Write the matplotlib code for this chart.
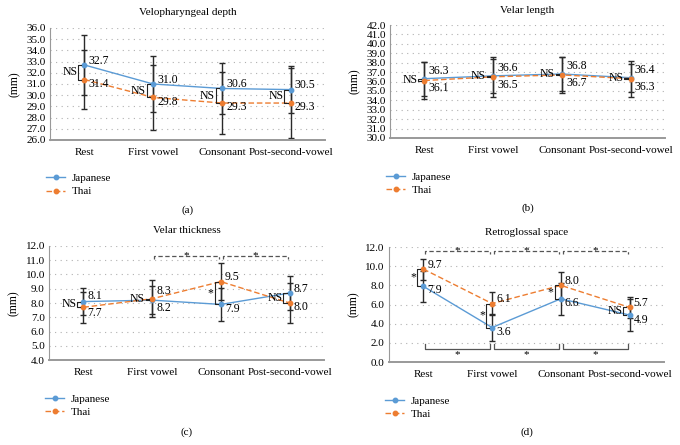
import matplotlib
matplotlib.use('Agg')
import matplotlib.pyplot as plt
import numpy as np

plt.rcParams['font.family'] = ['Liberation Serif', 'DejaVu Serif']
plt.rcParams['font.size'] = 8

categories = ['Rest', 'First vowel', 'Consonant', 'Post-second-vowel']

# velopharyngeal depth
depth_jp = [32.7, 31.0, 30.6, 30.5]
depth_jp_sd = [2.7, 2.5, 2.3, 2.1]
depth_th = [31.4, 29.8, 29.3, 29.3]
depth_th_sd = [2.6, 2.9, 2.8, 3.1]
depth_sig = ['NS', 'NS', 'NS', 'NS']

# velar length
length_jp = [36.3, 36.6, 36.8, 36.4]
length_jp_sd = [1.8, 1.8, 1.8, 1.5]
length_th = [36.1, 36.5, 36.7, 36.3]
length_th_sd = [2.0, 2.1, 1.9, 1.9]
length_sig = ['NS', 'NS', 'NS', 'NS']

# velar thickness
thick_jp = [8.1, 8.2, 7.9, 8.7]
thick_jp_sd = [0.95, 1.0, 1.15, 1.2]
thick_th = [7.7, 8.3, 9.5, 8.0]
thick_th_sd = [1.1, 1.3, 1.3, 1.4]
thick_sig = ['NS', 'NS', '*', 'NS']
thick_top = [(1, 2, '*'), (2, 3, '*')]

# retroglossal space
retro_jp = [7.9, 3.6, 6.6, 4.9]
retro_jp_sd = [1.6, 1.4, 1.65, 1.7]
retro_th = [9.7, 6.1, 8.0, 5.7]
retro_th_sd = [1.1, 1.2, 1.4, 1.1]
retro_sig = ['*', '*', '*', 'NS']
retro_top = [(0, 1, '*'), (1, 2, '*'), (2, 3, '*')]
retro_bottom = [(0, 1, '*'), (1, 2, '*'), (2, 3, '*')]

BLUE = '#5b9bd5'
ORANGE = '#ed7d31'
GRID = '#b0b0b0'


def draw_panel(rect, title, letter, jp, jp_sd, th, th_sd, sig, ylim, ystep,
               top=None, top_y=None, bottom=None, bottom_y=None):
    ax = fig.add_axes(rect)
    x = np.arange(len(categories))
    ax.set_xlim(-0.5, len(categories) - 0.5)
    ax.set_ylim(*ylim)
    ax.set_yticks(np.arange(ylim[0], ylim[1] + 0.01, ystep))
    ax.yaxis.set_major_formatter(plt.FormatStrFormatter('%.1f'))
    ax.set_xticks(x)
    ax.set_xticklabels(categories)
    ax.tick_params(length=0, pad=3, labelsize=8)
    ax.tick_params(axis='x', pad=6)
    ax.grid(axis='y', color=GRID, ls=(0, (1, 4)), lw=0.8)
    ax.set_axisbelow(True)
    for s in ['top', 'right']:
        ax.spines[s].set_visible(False)
    ax.spines['left'].set_color('#999999')
    ax.spines['left'].set_linewidth(0.8)
    ax.spines['bottom'].set_color('#999999')
    ax.spines['bottom'].set_linewidth(1.4)

    ax.errorbar(x, jp, yerr=jp_sd, fmt='none', ecolor='#2a2a2a', elinewidth=1.0,
                capsize=2, capthick=1.0, zorder=2)
    ax.errorbar(x, th, yerr=th_sd, fmt='none', ecolor='#2a2a2a', elinewidth=1.0,
                capsize=2, capthick=1.0, zorder=2)
    ax.plot(x, jp, color=BLUE, lw=1.0, marker='o', ms=3.2, label='Japanese', zorder=3)
    ax.plot(x, th, color=ORANGE, lw=1.0, ls=(0, (4, 2)), marker='o', ms=3.2,
            label='Thai', zorder=3)

    # data labels, pushed apart when the two values are close
    ppu = rect[3] * 445 / (ylim[1] - ylim[0]) * 72 / 100.0
    for i in range(len(x)):
        gap = abs(jp[i] - th[i]) * ppu
        d = max(3.0, (10.0 - gap) / 2.0 + 1)
        hi, lo = (jp[i], th[i]) if jp[i] >= th[i] else (th[i], jp[i])
        ax.annotate('%.1f' % hi, (x[i], hi), xytext=(3, d), textcoords='offset points',
                    ha='left', va='center', fontsize=8.5, zorder=4)
        ax.annotate('%.1f' % lo, (x[i], lo), xytext=(3, -d), textcoords='offset points',
                    ha='left', va='center', fontsize=8.5, zorder=4)
        # bracket between groups
        bx = x[i] - 0.09
        ax.plot([bx + 0.045, bx, bx, bx + 0.045], [hi, hi, lo, lo], color='#222222', lw=0.8,
                zorder=4)
        ax.text(bx - 0.015, (hi + lo) / 2, sig[i], ha='right', va='center', fontsize=8.5)

    if top:
        tick = (ylim[1] - ylim[0]) * 0.025
        for a, b, s in top:
            ax.plot([a + 0.03, a + 0.03, b - 0.03, b - 0.03],
                    [top_y - tick, top_y, top_y, top_y - tick],
                    color='#555555', lw=0.9, ls=(0, (3.5, 2)), zorder=4)
            ax.text((a + b) / 2, top_y, s, ha='center', va='center', fontsize=8)
    if bottom:
        tick = (ylim[1] - ylim[0]) * 0.04
        for a, b, s in bottom:
            ax.plot([a + 0.03, a + 0.03, b - 0.03, b - 0.03],
                    [bottom_y + tick, bottom_y, bottom_y, bottom_y + tick],
                    color='#555555', lw=0.9, zorder=4)
            ax.text((a + b) / 2, bottom_y - tick * 1.2, s, ha='center', va='center', fontsize=8)

    ax.set_title(title, fontsize=8, pad=9)
    ax.set_ylabel('(mm)', fontsize=8.5, labelpad=4)
    ax.legend(loc='upper left', bbox_to_anchor=(-0.03, -0.26), frameon=False, fontsize=8,
              handlelength=1.7, labelspacing=0.3, handletextpad=0.6, borderaxespad=0)
    fig.text(rect[0] + rect[2] / 2, rect[1] - 0.157 if rect[1] > 0.5 else 0.029,
             letter, ha='center', va='center', fontsize=8)
    return ax


fig = plt.figure(figsize=(6.8, 4.45), dpi=100)

draw_panel([0.0735, 0.6854, 0.4044, 0.2517], 'Velopharyngeal depth', '(a)',
           depth_jp, depth_jp_sd, depth_th, depth_th_sd, depth_sig, (26.0, 36.0), 1.0)
draw_panel([0.5735, 0.6899, 0.4044, 0.2539], 'Velar length', '(b)',
           length_jp, length_jp_sd, length_th, length_th_sd, length_sig, (30.0, 42.0), 1.0)
draw_panel([0.0721, 0.1910, 0.4044, 0.2562], 'Velar thickness', '(c)',
           thick_jp, thick_jp_sd, thick_th, thick_th_sd, thick_sig, (4.0, 12.0), 1.0,
           top=thick_top, top_y=11.3)
draw_panel([0.5720, 0.1865, 0.4044, 0.2584], 'Retroglossal space', '(d)',
           retro_jp, retro_jp_sd, retro_th, retro_th_sd, retro_sig, (0.0, 12.0), 2.0,
           top=retro_top, top_y=11.6, bottom=retro_bottom, bottom_y=1.4)

fig.savefig('out.png', dpi=100)
